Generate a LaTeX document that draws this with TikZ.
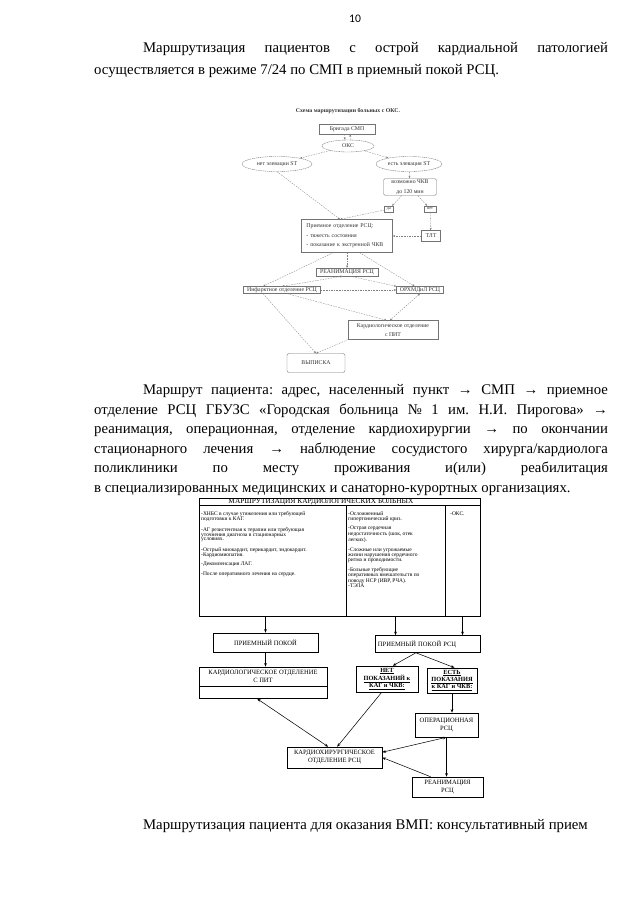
\documentclass[tikz,border=0pt]{standalone}
\usepackage{fontspec}
\setmainfont{Liberation Serif}
\newfontfamily\pagenumfont{Carlito}
\usetikzlibrary{positioning,arrows.meta,shapes.geometric}
\frenchspacing

\begin{document}
\begin{tikzpicture}[x=0.033333cm, y=-0.033333cm,
    wh/.style 2 args={minimum width=#1*0.9486pt, minimum height=#2*0.9486pt},
    bodytext/.style={anchor=base west, inner sep=0pt, text width=17.13cm, align=justify, font=\fontsize{14}{20.6}\selectfont},
    oldbox/.style={draw=black!55, line width=0.35pt, inner sep=0pt, align=center, text=black!80, font=\fontsize{5.5}{9}\selectfont},
    oldoval/.style={oldbox, ellipse, dash pattern=on 1.2pt off 0.6pt},
    oldline/.style={draw=black!50, line width=0.3pt, dash pattern=on 1.5pt off 1pt, >={Stealth[length=2.4pt,width=1.8pt]}},
    tabcell/.style={draw, line width=0.5pt, inner sep=0pt},
    listtext/.style={anchor=north west, inner sep=0pt, align=left, font=\fontsize{5.2}{4.6}\selectfont},
    rbox/.style={draw, line width=0.5pt, inner sep=0pt, align=center, font=\fontsize{6.2}{7.6}\selectfont},
    showbox/.style={rbox, font=\bfseries\fontsize{6}{5.9}\selectfont},
    rline/.style={draw, line width=0.5pt, >={Stealth[length=3.5pt,width=2.6pt]}}]

    \path[use as bounding box, fill=white] (0,0) rectangle (631,905);

    % page number and text
    \node[font=\pagenumfont\fontsize{11}{13}\selectfont] (pagenum) at (355,18.5) {10};
    \node[bodytext, font=\fontsize{14}{20.9}\selectfont] (parA) at (94,52.5) {\hspace*{1.63cm}Маршрутизация пациентов с острой кардиальной патологией \linebreak осуществляется в режиме 7/24 по СМП в приемный покой РСЦ.};

    % scheme for ACS patients
    \node[oldbox, draw=none, font=\bfseries\fontsize{5.5}{6}\selectfont] (schemetitle) at (348,111) {Схема маршрутизации больных с ОКС.};
    \node[oldbox, wh={56}{10}] (smp) at (347,129) {Бригада СМП};
    \node[oldoval, wh={52}{12}] (oks) at (348,146) {ОКС};
    \node[oldoval, wh={70}{15}] (noST) at (277,164) {нет элевации ST};
    \node[oldoval, wh={66}{15}] (yesST) at (409,164) {есть элевация ST};
    \node[oldbox, rounded corners=1.5pt, wh={53}{17}] (pci) at (410,187) {возможно ЧКВ\\до 120 мин};
    \node[oldbox, wh={9}{6}, font=\fontsize{4}{5}\selectfont] (yes) at (389,209) {да};
    \node[oldbox, wh={12}{6}, font=\fontsize{4}{5}\selectfont] (no) at (430,209) {нет};
    \node[oldbox, wh={91}{33}, align=left, text width=77pt] (admit) at (347,236) {Приемное отделение РСЦ:\\ - тяжесть состояния\\ - показание к экстренной ЧКВ};
    \node[oldbox, wh={19}{11}] (tlt) at (431,236) {ТЛТ};
    \node[oldbox, wh={62}{8}] (reanimA) at (347,272) {РЕАНИМАЦИЯ РСЦ};
    \node[oldbox, wh={77}{7}] (infarct) at (282,290) {Инфарктное отделение РСЦ};
    \node[oldbox, wh={47}{7}] (orhm) at (420,290) {ОРХМДиЛ РСЦ};
    \node[oldbox, wh={90}{19}] (cardioA) at (393,330) {Кардиологическое отделение\\с ПИТ};
    \node[oldbox, rounded corners=2pt, wh={58}{19}] (discharge) at (316,363) {ВЫПИСКА};

    \draw[oldline, ->] ([xshift=-2.8pt]smp.south) -- ([xshift=-2.8pt]oks.north);
    \draw[oldline, ->] ([xshift=2.8pt]oks.north) -- ([xshift=2.8pt]smp.south);
    \draw[oldline, ->] (oks) -- (noST);
    \draw[oldline, ->] (oks) -- (yesST);
    \draw[oldline, ->] (yesST) -- (pci);
    \draw[oldline, ->] (pci) -- (yes);
    \draw[oldline, ->] (pci) -- (no);
    \draw[oldline, ->] (noST.south) -- ([xshift=-6.6pt]admit.north);
    \draw[oldline, ->] (yes) -- ([xshift=-6.6pt]admit.north);
    \draw[oldline, ->] (no) -- (tlt);
    \draw[oldline, ->] (tlt) -- (admit);
    \draw[oldline, ->] (admit) -- (reanimA);
    \draw[oldline, ->] ([xshift=-13pt]admit.south) -- ([xshift=-18pt]infarct.north);
    \draw[oldline, ->] ([xshift=12pt]admit.south) -- ([xshift=-5pt]orhm.north);
    \draw[oldline, <->] (infarct.north) -- ([xshift=-4pt]reanimA.south);
    \draw[oldline, ->] ([xshift=3pt]reanimA.south) -- (orhm.north west);
    \draw[oldline, ->] (infarct.east) -- (orhm.west);
    \draw[oldline, ->] ([xshift=-18pt]infarct.south) -- (discharge.north);
    \draw[oldline, ->] ([xshift=5pt]infarct.south) -- ([xshift=-6pt]cardioA.north);
    \draw[oldline, <->] (orhm.south) -- ([xshift=-3pt]cardioA.north);
    \draw[oldline, ->] (cardioA.south west) -- (discharge.north);

    \node[bodytext, font=\fontsize{14}{18.6}\selectfont] (parB) at (94,394.5) {\hspace*{1.63cm}Маршрут пациента: адрес, населенный пункт → СМП → приемное \linebreak отделение РСЦ ГБУЗС «Городская больница №~1 им. Н.И.~Пирогова» → \linebreak реанимация, операционная, отделение кардиохирургии → по окончании \linebreak стационарного лечения → наблюдение сосудистого хирурга/кардиолога \linebreak поликлиники по месту проживания и(или) реабилитация \linebreak в специализированных медицинских и санаторно-курортных организациях.};

    % routing of cardiology patients
    \node[tabcell, wh={281}{7}] (tabhead) at (339.5,501.5) {};
    \node[inner sep=0pt, font=\fontsize{7}{7.2}\selectfont] (tabtitle) at (321,502) {МАРШРУТИЗАЦИЯ КАРДИОЛОГИЧЕСКИХ БОЛЬНЫХ};
    \node[tabcell, wh={147}{111}] (colA) at (272.5,560.5) {};
    \node[tabcell, wh={99}{111}] (colB) at (395.5,560.5) {};
    \node[tabcell, wh={35}{111}] (colC) at (462.5,560.5) {};
    \node[listtext] (listA) at (201,511.5) {-ХНБС в случае утяжеления или требующей\\подготовки к КАГ.\\[4.4pt]
        -АГ резистентная к терапии или требующая\\уточнения диагноза в стационарных\\условиях.\\[4.4pt]
        -Острый миокардит, перикардит, эндокардит.\\-Кардиомиопатия.\\[4.4pt]
        -Декомпенсация ЛАГ.\\[4.4pt]
        -После оперативного лечения на сердце.};
    \node[listtext] (listB) at (348,511.5) {-Осложненный\\гипертонический криз.\\[4.4pt]
        -Острая сердечная\\недостаточность (шок, отек\\легких).\\[4.4pt]
        -Сложные или угрожаемые\\жизни нарушения сердечного\\ритма и проводимости.\\[4.4pt]
        -Больные требующие\\оперативных вмешательств по\\поводу НСР (ИВР, РЧА).\\-ТЭЛА};
    \node[listtext] (listC) at (450,511.5) {-ОКС.};

    \node[rbox, wh={105}{19}] (pp) at (265.5,642.5) {ПРИЕМНЫЙ ПОКОЙ};
    \node[rbox, wh={105}{17}, align=left, text width=94pt, inner xsep=2.8pt] (pprsc) at (427.5,644) {ПРИЕМНЫЙ ПОКОЙ РСЦ};
    \node[rbox, wh={128}{19}] (kpit) at (263,676.5) {КАРДИОЛОГИЧЕСКОЕ ОТДЕЛЕНИЕ\\С ПИТ};
    \node[rbox, wh={128}{12}, below=0pt of kpit] (kpitlow) {};
    \node[showbox, wh={62}{26}] (noind) at (387,679) {\underline{НЕТ}\\\underline{ПОКАЗАНИЙ к}\\\underline{КАГ и ЧКВ:}};
    \node[showbox, wh={50}{25}] (yesind) at (452,680.5) {\underline{ЕСТЬ}\\\underline{ПОКАЗАНИЯ}\\\underline{к КАГ и ЧКВ:}};
    \node[rbox, wh={63}{24}] (oper) at (446.5,725) {ОПЕРАЦИОННАЯ\\РСЦ};
    \node[rbox, wh={95}{21}] (surg) at (334.5,757.5) {КАРДИОХИРУРГИЧЕСКОЕ\\ОТДЕЛЕНИЕ РСЦ};
    \node[rbox, wh={71}{20}] (reanimB) at (447.5,787) {РЕАНИМАЦИЯ\\РСЦ};

    \draw[rline, ->] (colA.south -| pp.north) -- (pp.north);
    \draw[rline, ->] (colB.south) -- (colB.south |- pprsc.north);
    \draw[rline, ->] (colC.south) -- (colC.south |- pprsc.north);
    \draw[rline, ->] (pp.south) -- (pp.south |- kpit.north);
    \draw[rline, ->] ([xshift=-11pt]pprsc.south) -- ([xshift=5.5pt]noind.north);
    \draw[rline, ->] ([xshift=-11pt]pprsc.south) -- ([xshift=2.5pt]yesind.north);
    \draw[rline, <->] ([xshift=-5.5pt]kpitlow.south) -- ([xshift=-6pt]surg.north);
    \draw[rline, ->] ([xshift=-5pt]noind.south) -- ([xshift=2.5pt]surg.north);
    \draw[rline, ->] (yesind.south) -- (yesind.south |- oper.north);
    \draw[rline, <->] (oper.south) -- ([yshift=5pt]surg.east);
    \draw[rline, ->] (oper.south) -- (oper.south |- reanimB.north);
    \draw[rline, ->] ([xshift=-16pt]reanimB.north) -- (surg.east);

    \node[bodytext] (parC) at (94,829) {\hspace*{1.63cm}Маршрутизация пациента для оказания ВМП: консультативный прием};
\end{tikzpicture}
\end{document}
